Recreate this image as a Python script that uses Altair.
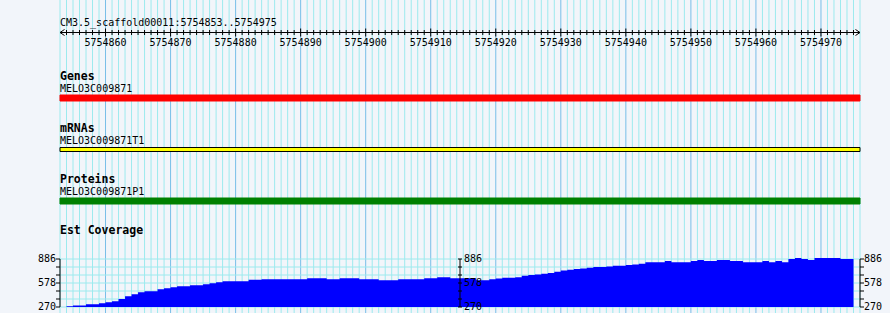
import altair as alt
import pandas as pd

# ---------------- data ----------------
region_label = "CM3.5_scaffold00011:5754853..5754975"
view_start = 5754853
view_end = 5754976          # end of last base shown (5754975 + 1)
major_step = 10

track_titles = ["Genes", "mRNAs", "Proteins", "Est Coverage"]
feature_names = ["MELO3C009871", "MELO3C009871T1", "MELO3C009871P1"]
feature_start = [5754853, 5754853, 5754853]
feature_end = [5754976, 5754976, 5754976]
feature_fill = ["#FF0000", "#FFFF00", "#008000"]
feature_stroke = ["#FF0000", "#000000", "#008000"]

coverage_start = 5754854
coverage = [280, 288, 288, 305, 305, 318, 331, 344, 373, 408,
            434, 460, 473, 473, 499, 511, 524, 537, 537, 550,
            550, 563, 576, 589, 602, 602, 602, 602, 619, 619,
            627, 627, 627, 627, 627, 627, 627, 640, 640, 640,
            627, 627, 640, 640, 640, 627, 627, 627, 614, 614,
            614, 627, 627, 627, 627, 640, 640, 653, 653, 640,
            640, 640, 640, 614, 614, 627, 636, 645, 645, 653,
            670, 680, 688, 697, 705, 722, 740, 748, 757, 765,
            774, 783, 783, 791, 800, 800, 808, 817, 825, 843,
            843, 843, 860, 843, 843, 843, 860, 873, 860, 860,
            873, 873, 860, 860, 843, 843, 843, 860, 843, 860,
            843, 886, 899, 886, 873, 899, 899, 899, 899, 886,
            886]
cov_min, cov_max = 270, 886
cov_labels = [270, 578, 886]
cov_ticks = [270 + (cov_max - cov_min) * k / 6 for k in range(7)]

# ---------------- styles ----------------
BG = "#F2F5FA"
GRID_MINOR = "#9CEAEE"
GRID_MAJOR = "#78BEE8"
MONO = "DejaVu Sans Mono"

xscale = alt.Scale(domain=[view_start, view_end], nice=False, zero=False)
cov_scale = alt.Scale(domain=[cov_min, cov_max], range=[307, 259], nice=False, zero=False)

positions = list(range(view_start, view_end + 1))
grid_df = pd.DataFrame({"pos": positions})
grid_df["major"] = grid_df["pos"] % major_step == 0

X = lambda f="pos": alt.X(f"{f}:Q", scale=xscale, axis=None)

vgrid_minor = alt.Chart(grid_df[~grid_df["major"]]).mark_rule(
    color=GRID_MINOR, strokeWidth=1
).encode(x=X(), y=alt.value(0), y2=alt.value(313))

vgrid_major = alt.Chart(grid_df[grid_df["major"]]).mark_rule(
    color=GRID_MAJOR, strokeWidth=1
).encode(x=X(), y=alt.value(0), y2=alt.value(313))

hgrid_df = pd.DataFrame({"lvl": cov_ticks})
hgrid = alt.Chart(hgrid_df).mark_rule(color=GRID_MINOR, strokeWidth=1).encode(
    x=alt.value(0), x2=alt.value(800),
    y=alt.Y("lvl:Q", scale=cov_scale, axis=None),
)

# coverage step area
cov_pos = [coverage_start + i for i in range(len(coverage))]
cov_df = pd.DataFrame({"pos": cov_pos + [cov_pos[-1] + 1],
                       "cov": coverage + [coverage[-1]]})
cov_area = alt.Chart(cov_df).mark_area(
    interpolate="step-after", color="#0000FF", opacity=1
).encode(
    x=X(),
    y=alt.Y("cov:Q", scale=cov_scale, axis=None),
    y2=alt.Y2(datum=cov_min),
)

# feature bars
bar_y = [(95, 101), (147.5, 151.5), (198, 204)]
feature_layers = []
for i in range(3):
    fdf = pd.DataFrame({"s": [feature_start[i]], "e": [feature_end[i]]})
    feature_layers.append(
        alt.Chart(fdf).mark_rect(
            fill=feature_fill[i], stroke=feature_stroke[i], strokeWidth=1
        ).encode(
            x=alt.X("s:Q", scale=xscale, axis=None), x2="e:Q",
            y=alt.value(bar_y[i][0]), y2=alt.value(bar_y[i][1]),
        )
    )

# ruler
ruler_df = pd.DataFrame({"s": [view_start], "e": [view_end]})
ruler_line = alt.Chart(ruler_df).mark_rule(color="black", strokeWidth=1).encode(
    x=alt.X("s:Q", scale=xscale, axis=None), x2="e:Q", y=alt.value(32.5)
)
tick_df = pd.DataFrame({"pos": list(range(view_start + 1, view_end))})
tick_df["major"] = tick_df["pos"] % major_step == 0
minor_ticks = alt.Chart(tick_df[~tick_df["major"]]).mark_rule(color="black").encode(
    x=X(), y=alt.value(30), y2=alt.value(35)
)
major_ticks = alt.Chart(tick_df[tick_df["major"]]).mark_rule(color="black").encode(
    x=X(), y=alt.value(28.5), y2=alt.value(36.5)
)
tick_labels = alt.Chart(tick_df[tick_df["major"]]).mark_text(
    font=MONO, fontSize=10, color="black", align="center", baseline="alphabetic"
).encode(x=X(), y=alt.value(46), text="pos:Q")

left_arrow = alt.Chart(pd.DataFrame({"pos": [view_start]})).mark_point(
    shape="M1.5,-1L0,0L1.5,1", filled=False, color="black", size=36,
    strokeWidth=1, opacity=1
).encode(x=X(), y=alt.value(32.5))
right_arrow = alt.Chart(pd.DataFrame({"pos": [view_end]})).mark_point(
    shape="M-1.5,-1L0,0L-1.5,1", filled=False, color="black", size=36,
    strokeWidth=1, opacity=1
).encode(x=X(), y=alt.value(32.5))


def text_layer(txt, y, bold=False, size=10):
    d = pd.DataFrame({"pos": [view_start], "t": [txt]})
    return alt.Chart(d).mark_text(
        font=MONO, fontSize=size, fontWeight="bold" if bold else "normal",
        color="black", align="left", baseline="alphabetic"
    ).encode(x=X(), y=alt.value(y), text="t:N")


texts = [text_layer(region_label, 25.5)]
title_y = [80, 131.5, 183, 234]
name_y = [92, 144, 195]
for i, t in enumerate(track_titles):
    texts.append(text_layer(t, title_y[i], bold=True, size=11.5))
for i, n in enumerate(feature_names):
    texts.append(text_layer(n, name_y[i]))

# coverage axes (left, middle, right)
axis_pos = [view_start, (view_start + view_end) / 2, view_end]
axis_layers = []
for j, ap in enumerate(axis_pos):
    line_df = pd.DataFrame({"pos": [ap], "lo": [cov_min], "hi": [cov_max]})
    axis_layers.append(
        alt.Chart(line_df).mark_rule(color="black", strokeWidth=1).encode(
            x=X(), y=alt.Y("lo:Q", scale=cov_scale, axis=None), y2="hi:Q"
        )
    )
    tdf = pd.DataFrame({"pos": [ap] * len(cov_ticks), "lvl": cov_ticks})
    off = [-2, 0, 2][j]
    axis_layers.append(
        alt.Chart(tdf).mark_tick(
            orient="horizontal", size=4, thickness=1, color="black",
            xOffset=off, opacity=1
        ).encode(x=X(), y=alt.Y("lvl:Q", scale=cov_scale, axis=None))
    )
    ldf = pd.DataFrame({"pos": [ap] * len(cov_labels), "lvl": cov_labels})
    axis_layers.append(
        alt.Chart(ldf).mark_text(
            font=MONO, fontSize=10, color="black",
            align="right" if j == 0 else "left",
            dx=-4 if j == 0 else 4, baseline="middle"
        ).encode(x=X(), y=alt.Y("lvl:Q", scale=cov_scale, axis=None), text="lvl:Q")
    )

chart = alt.layer(
    vgrid_minor, vgrid_major, hgrid, cov_area, *feature_layers,
    ruler_line, minor_ticks, major_ticks, tick_labels, left_arrow, right_arrow,
    *texts, *axis_layers
).properties(
    width=800, height=313,
    autosize=alt.AutoSizeParams(type="none"),
    padding={"left": 60, "right": 30, "top": 0, "bottom": 0},
).configure(background=BG).configure_view(stroke=None, fill=BG)

chart.save("out.html", embed_options={"renderer": "svg", "actions": False})
